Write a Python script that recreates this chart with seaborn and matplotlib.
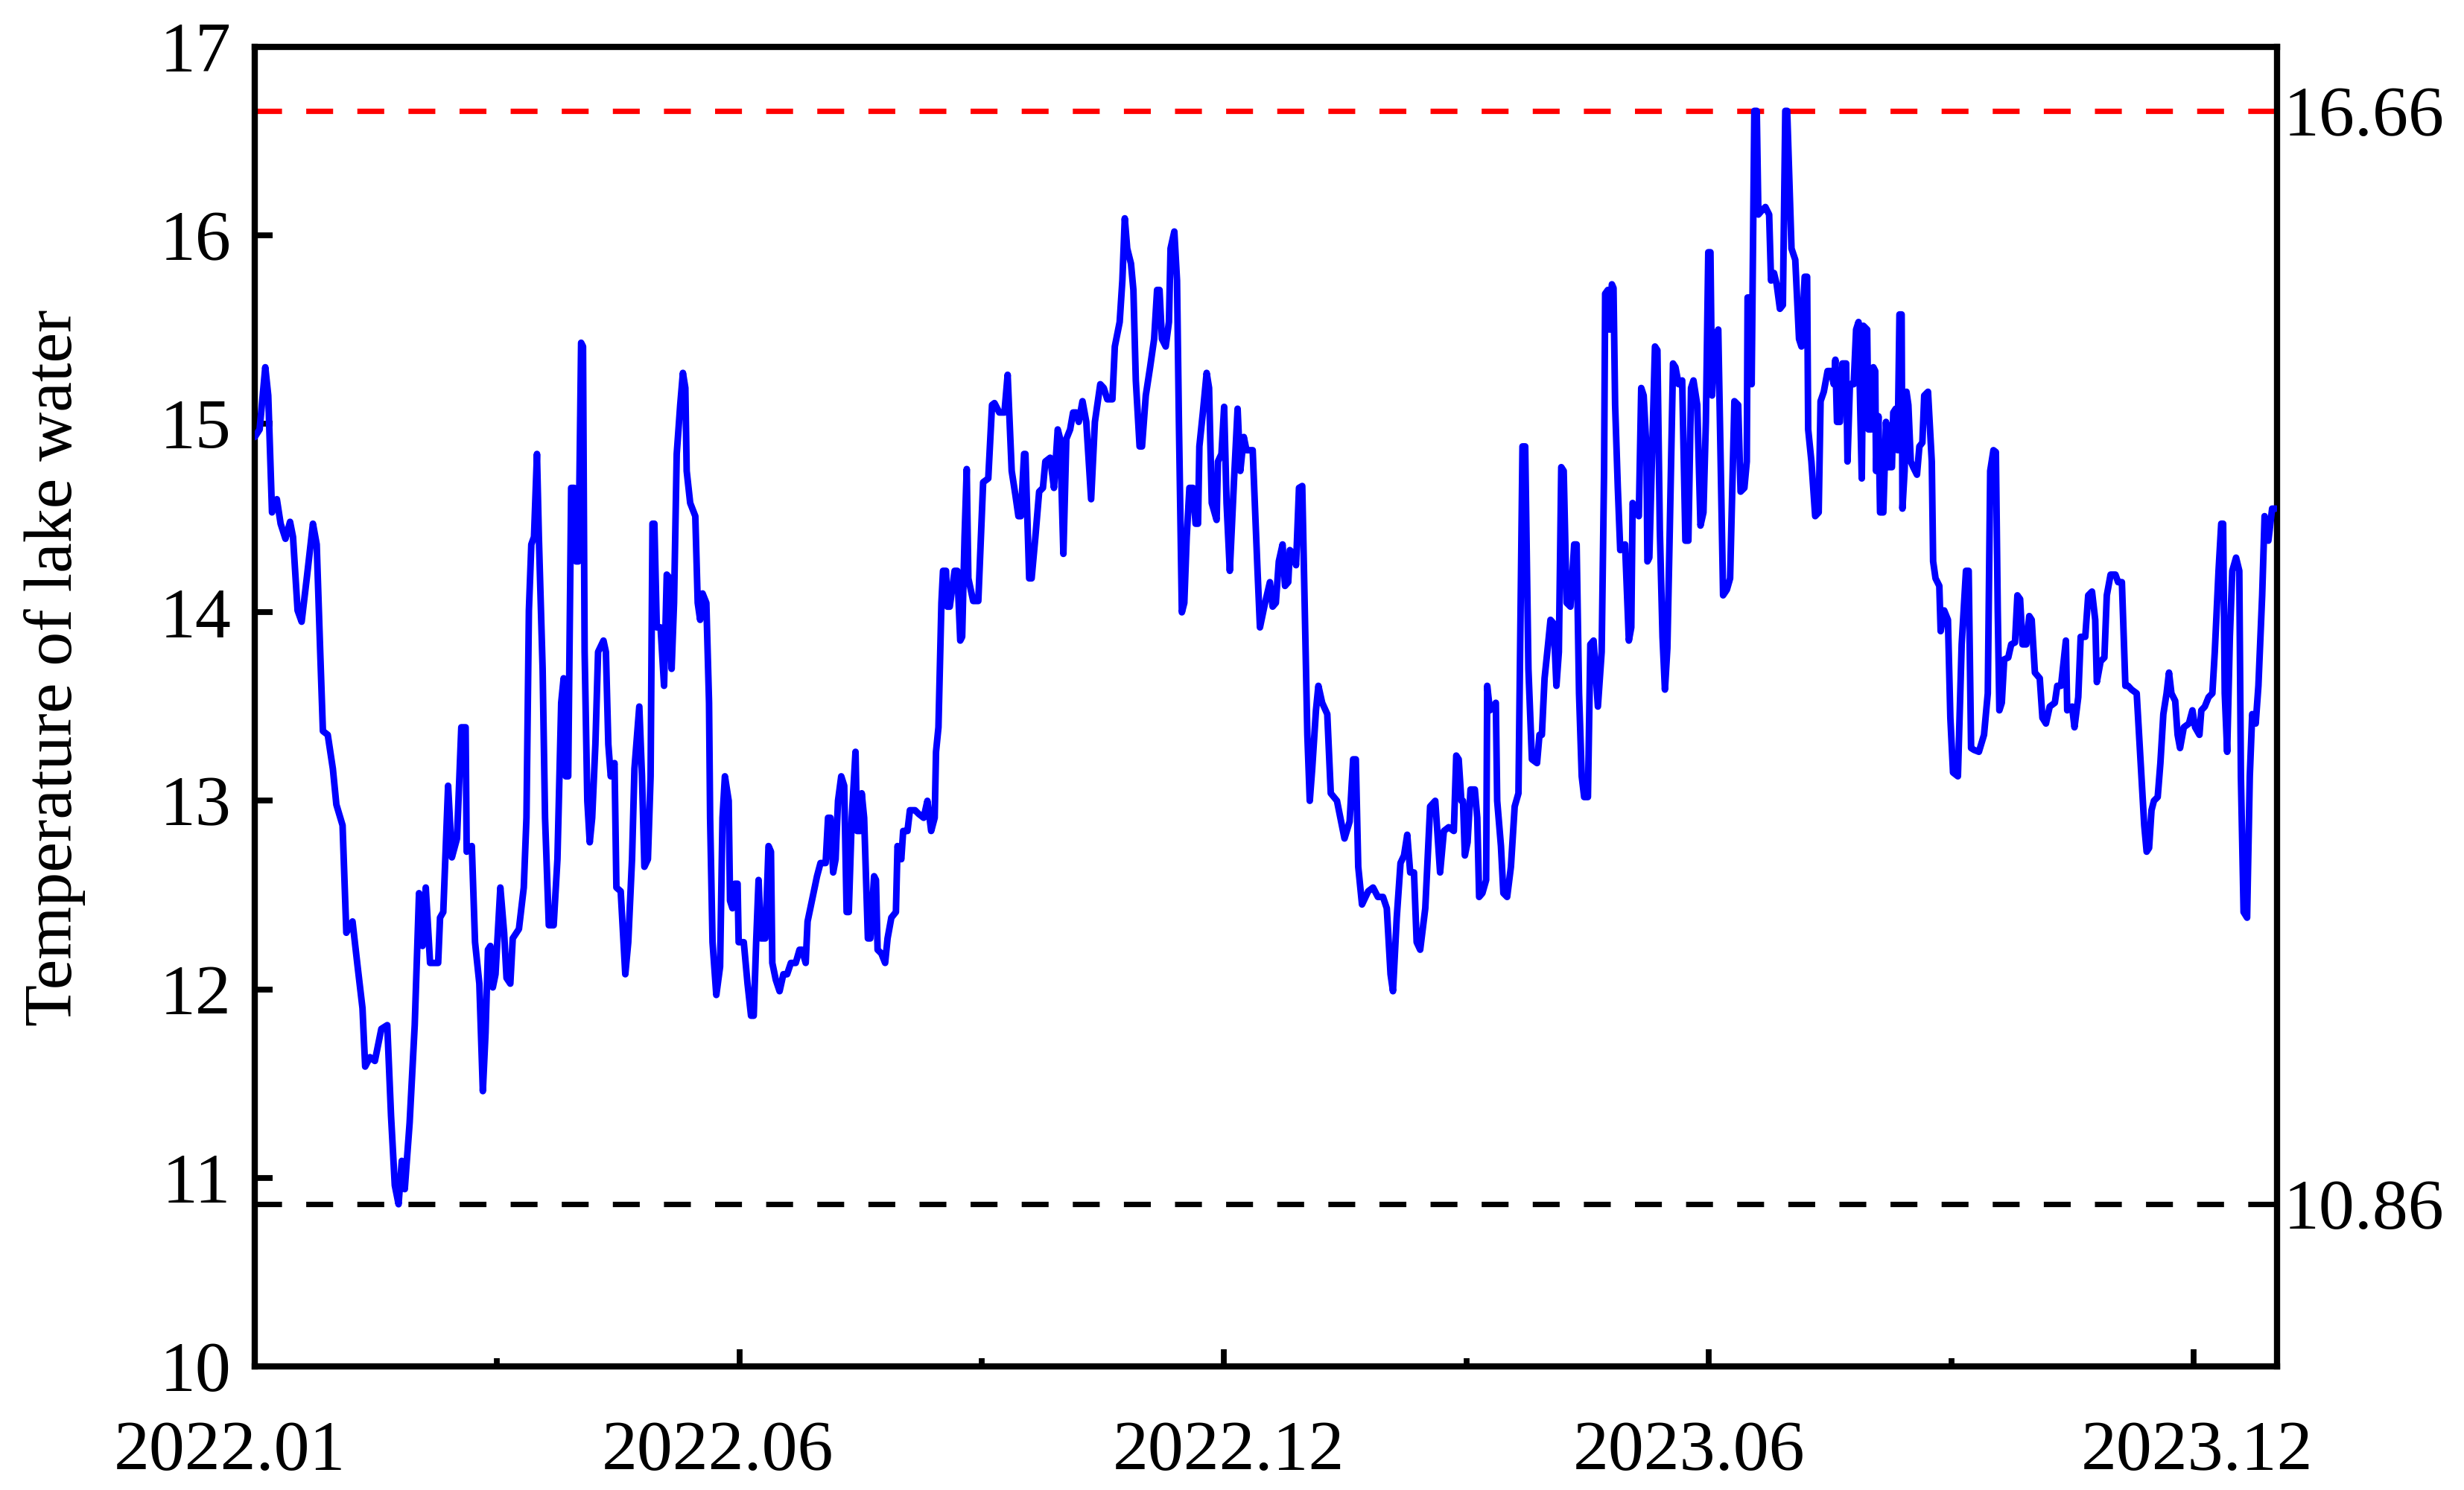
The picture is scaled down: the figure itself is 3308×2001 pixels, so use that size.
import matplotlib
matplotlib.use("Agg")
import matplotlib.pyplot as plt
import matplotlib.transforms as mtransforms
import seaborn as sns
import pandas as pd

# daily lake water temperature, day 0 = 2022-01-01
day = [
    0.0, 1.8, 3.9, 5.0, 6.4, 8.2, 9.6, 11.4, 13.1, 14.2, 15.9, 17.4, 19.3, 21.6, 23.0, 24.3, 25.3, 27.1,
    29.0, 30.3, 32.6, 34.0, 36.3, 38.2, 40.0, 41.0, 42.8, 44.6, 47.0, 49.2, 50.6, 52.0, 53.4, 54.6, 55.7,
    57.5, 59.4, 61.0, 62.3, 63.5, 65.1, 68.1, 68.8, 70.0, 71.8, 73.2, 75.1, 76.7, 78.3, 78.7, 80.6, 81.8,
    83.4, 84.7, 85.7, 86.6, 87.5, 88.4, 89.4, 91.2, 92.6, 93.5, 94.9, 95.8, 98.1, 99.9, 100.9, 101.8,
    102.7, 103.7, 104.8, 105.5, 106.9, 107.8, 109.2, 111.0, 112.4, 113.8, 114.7, 115.5, 116.4, 117.5,
    118.6, 119.3, 120.2, 121.2, 121.9, 122.5, 123.5, 124.4, 125.3, 126.5, 127.5,
    129.5, 130.4, 131.3, 132.2, 133.6, 134.3, 135.9, 137.6, 138.7, 140.1, 141.0, 142.8, 143.8, 144.7,
    146.0, 147.0, 147.7, 148.4, 149.3, 150.7, 152.0, 153.0, 153.6, 154.8, 155.7, 156.7, 158.0, 159.0,
    159.9, 160.4, 161.7, 163.6, 164.5, 165.4, 166.3, 167.7, 168.7, 169.1, 170.0, 171.4, 172.8, 173.7,
    174.6, 176.0, 176.5, 177.4, 178.3, 179.3, 179.7, 181.6, 183.0, 184.3, 185.3, 186.2, 187.1, 188.0,
    189.6, 190.8, 191.7, 192.2, 193.5, 194.9, 196.3, 197.7, 199.1, 200.9, 202.3, 203.2, 204.6, 205.3,
    206.9, 208.8, 210.1, 212.0, 212.9, 213.8, 214.8, 215.7, 216.6, 217.8, 218.9, 219.8, 220.6, 221.7,
    223.1, 223.7, 224.9, 225.4, 226.3, 227.7, 228.6, 230.0, 230.7, 231.3, 232.7, 234.1, 235.0, 236.4,
    238.1, 238.7, 240.1, 240.8, 242.4, 243.3, 245.2, 246.6,
    248.4, 249.8, 251.2, 252.5, 253.0, 253.9, 255.0, 255.6, 256.7, 257.2, 258.1, 259.9, 260.9, 262.0,
    262.7, 263.6, 264.4, 265.0, 266.8, 268.7, 270.5, 272.4, 273.8, 274.7, 276.5, 278.4, 279.6, 281.1,
    282.5, 283.6, 284.5, 285.7, 286.2, 287.6, 288.5, 289.9, 291.3, 292.7, 293.6, 295.4, 296.8, 298.2,
    299.1, 300.3, 301.4, 302.8, 303.9, 305.1, 306.0, 307.4, 308.8, 310.6, 312.0, 314.0, 315.3, 316.6,
    318.5, 319.4, 321.2, 322.2, 323.1, 324.0, 325.4, 326.3, 327.2, 328.6, 329.5, 330.9, 332.5, 334.0,
    335.1, 336.0, 336.9, 338.3, 339.5, 340.1, 341.5, 342.5, 343.2, 344.3, 345.2, 346.1, 347.1, 348.4,
    349.4, 350.3, 350.8, 352.1, 353.5, 354.4, 355.4, 357.2, 357.7, 359.0, 360.0, 360.9, 362.1, 363.7,
    365.0, 366.0, 367.3, 368.3, 370.6, 372.4, 373.3,
    375.2, 377.0, 378.0, 379.2, 380.3, 381.7, 382.6, 383.8, 384.4, 385.8, 386.7, 387.8, 389.0, 389.9,
    390.9, 391.8, 392.7, 394.1, 395.0, 396.4, 398.3, 399.6, 401.9, 404.7, 406.6, 407.9, 408.9, 409.8,
    411.2, 413.5, 415.3, 417.1, 419.0, 420.4, 421.8, 422.7, 424.1, 425.5, 426.8, 428.0, 429.1, 430.5,
    431.5, 432.8, 434.7, 436.5, 438.4, 440.2, 441.6, 443.4, 445.3, 446.2, 447.1, 448.1, 448.7, 449.4,
    450.4, 451.5, 453.1, 454.0, 454.7, 455.9, 457.3, 457.7, 458.7, 460.0, 460.9, 461.4, 462.8, 463.7,
    465.1, 466.5, 467.9, 469.3, 470.2, 470.8, 471.8, 473.0, 474.3, 476.2, 477.1, 478.0, 479.0, 480.3,
    481.2, 482.4, 483.4, 484.3, 485.2, 486.1, 487.2, 488.6, 490.0, 490.9, 491.8, 492.8, 493.7, 495.1,
    496.0, 497.2,
    498.8, 500.2, 501.1, 501.5, 502.5, 503.1, 504.0, 504.6, 505.2, 506.2, 507.1, 508.9, 510.3, 511.2,
    511.7, 512.6, 514.0, 514.9, 515.8, 516.8, 517.2, 517.9, 519.1, 520.0, 520.9, 521.8, 522.8, 523.7,
    524.6, 525.5, 526.7, 527.6, 528.8, 530.1, 531.3, 532.4, 533.4, 534.3, 535.7, 536.9, 538.0, 538.9,
    539.8, 540.6, 541.2, 542.1, 543.5, 544.4, 545.3, 546.7, 547.9, 549.5, 550.9, 551.8, 553.2, 554.1,
    554.4, 555.5, 555.9, 556.9, 557.8, 558.4, 559.6, 561.0, 562.4, 563.1, 564.2, 565.2, 566.4, 567.5,
    568.4, 569.1, 570.1, 570.7, 572.1, 573.5, 574.4, 575.6, 576.5, 576.9, 578.1, 579.5, 580.8, 581.5,
    582.7, 584.1, 585.4, 586.4, 587.0, 587.6, 588.7, 589.6, 591.0, 591.5, 592.4, 593.8, 594.7, 595.6,
    596.2, 596.8, 597.4, 598.8, 599.3, 600.2, 601.1, 601.8, 602.1, 603.0, 603.6, 604.8, 605.8, 606.7,
    608.0, 608.5, 609.4, 610.1, 610.8, 611.6, 611.9, 612.7, 613.4, 614.1, 615.0, 615.9, 617.3, 618.2,
    619.3, 620.0, 621.4,
    622.8, 623.3, 624.2, 625.6, 626.1, 627.4, 628.8, 629.7, 630.7, 632.5, 633.9, 635.5, 636.5, 637.4,
    638.5, 640.3, 642.2, 643.6, 644.5, 645.7, 646.6, 647.3, 647.9, 648.8, 649.7, 651.2, 652.3, 653.7,
    654.6, 655.6, 656.5, 657.9, 659.0, 659.9, 661.1, 662.9, 663.9, 665.2, 666.6, 668.5, 669.4, 670.8,
    672.6, 673.1, 674.9, 675.8, 677.2, 678.1, 679.8, 680.9, 682.3, 683.5, 684.1, 685.5, 686.9, 687.8,
    689.2, 691.0, 692.0, 693.4, 694.7, 695.7, 697.0, 698.9, 700.3, 701.7, 702.6, 703.5, 704.4, 705.3,
    706.7, 707.7, 708.8, 710.0, 710.9, 711.8, 713.2, 714.1, 715.0, 716.4, 718.3, 719.6, 720.6, 722.2,
    722.9, 724.2, 725.6, 727.0, 727.9, 729.3, 730.3, 731.0, 731.6, 732.5, 733.5, 734.4, 735.8, 737.0,
    737.6, 738.6, 739.9, 740.9, 741.8, 743.1, 744.1, 745.5, 746.4, 747.8, 749.2, 750.6,
]
temp = [
    14.93, 14.97, 15.30, 15.15, 14.53, 14.60, 14.47, 14.39, 14.48, 14.40, 14.01, 13.95, 14.18, 14.47, 14.36, 13.79, 13.37, 13.35,
    13.17, 12.98, 12.87, 12.30, 12.36, 12.12, 11.90, 11.59, 11.64, 11.62, 11.79, 11.81, 11.33, 10.96, 10.86, 11.09, 10.94,
    11.29, 11.81, 12.51, 12.23, 12.54, 12.14, 12.14, 12.38, 12.41, 13.08, 12.70, 12.80, 13.39, 13.39, 12.73, 12.76, 12.25,
    12.03, 11.46, 11.77, 12.21, 12.23, 12.01, 12.08, 12.54, 12.30, 12.06, 12.03, 12.27, 12.32, 12.54, 12.91, 14.01,
    14.36, 14.40, 14.84, 14.40, 13.70, 12.91, 12.34, 12.34, 12.69, 13.52, 13.65, 13.13, 13.13, 14.66,
    14.66, 14.27, 14.27, 15.43, 15.41, 13.79, 13.00, 12.78, 12.91, 13.30, 13.79,
    13.85, 13.79, 13.30, 13.13, 13.20, 12.54, 12.52, 12.08, 12.25, 12.69, 13.17, 13.50, 13.13, 12.65,
    12.69, 13.13, 14.47, 14.47, 13.92, 13.92, 13.61, 14.20, 14.19, 13.70, 14.05, 14.84, 15.10, 15.27,
    15.19, 14.75, 14.58, 14.51, 14.05, 13.96, 14.10, 14.05, 13.52, 12.91, 12.25, 11.97, 12.12, 12.91,
    13.13, 13.00, 12.47, 12.43, 12.56, 12.56, 12.25, 12.25, 12.03, 11.86, 11.86, 12.25, 12.58, 12.27,
    12.27, 12.76, 12.73, 12.14, 12.05, 11.99, 12.08, 12.08, 12.14, 12.14, 12.21, 12.21, 12.14, 12.36,
    12.47, 12.60, 12.67, 12.67, 12.91, 12.91, 12.62, 12.69, 13.00, 13.13, 13.08, 12.41, 12.41, 12.91,
    13.26, 12.84, 12.84, 13.04, 12.91, 12.27, 12.27, 12.60, 12.58, 12.21, 12.19, 12.14, 12.27, 12.38,
    12.41, 12.76, 12.69, 12.84, 12.84, 12.95, 12.95, 12.93,
    12.91, 13.00, 12.84, 12.91, 13.26, 13.39, 14.05, 14.22, 14.22, 14.03, 14.03, 14.22, 14.22, 13.85,
    13.87, 14.40, 14.76, 14.18, 14.06, 14.06, 14.69, 14.71, 15.10, 15.11, 15.06, 15.06, 15.26, 14.75,
    14.62, 14.51, 14.51, 14.84, 14.84, 14.18, 14.18, 14.40, 14.64, 14.66, 14.80, 14.82, 14.66, 14.97,
    14.92, 14.31, 14.92, 14.97, 15.06, 15.06, 15.01, 15.12, 15.01, 14.60, 15.01, 15.21, 15.19, 15.13,
    15.13, 15.41, 15.54, 15.76, 16.09, 15.93, 15.85, 15.71, 15.23, 14.88, 14.88, 15.15, 15.30, 15.45,
    15.71, 15.71, 15.45, 15.41, 15.54, 15.93, 16.02, 15.76, 15.01, 14.00, 14.05, 14.40, 14.66, 14.66,
    14.47, 14.47, 14.88, 15.06, 15.27, 15.19, 14.58, 14.49, 14.80, 14.84, 15.09, 14.58, 14.22, 14.71,
    15.08, 14.75, 14.93, 14.86, 14.86, 14.22, 13.92,
    14.05, 14.16, 14.03, 14.05, 14.27, 14.36, 14.14, 14.16, 14.33, 14.31, 14.25, 14.66, 14.67, 14.05,
    13.35, 13.00, 13.17, 13.48, 13.61, 13.52, 13.46, 13.04, 13.00, 12.80, 12.89, 13.22, 13.22, 12.65,
    12.45, 12.52, 12.54, 12.49, 12.49, 12.43, 12.08, 11.99, 12.38, 12.67, 12.71, 12.82, 12.62, 12.62,
    12.25, 12.21, 12.43, 12.97, 13.00, 12.62, 12.84, 12.86, 12.84, 13.24, 13.22, 13.00, 13.00, 12.71,
    12.78, 13.06, 13.06, 12.91, 12.49, 12.51, 12.58, 13.61, 13.48, 13.50, 13.52, 13.00, 12.76, 12.51,
    12.49, 12.65, 12.97, 13.04, 14.14, 14.88, 14.88, 13.70, 13.22, 13.20, 13.35, 13.35, 13.65, 13.83,
    13.96, 13.94, 13.61, 13.79, 14.77, 14.75, 14.05, 14.03, 14.36, 14.36, 13.57, 13.13, 13.02, 13.02,
    13.83, 13.85,
    13.50, 13.79, 14.75, 15.69, 15.71, 15.50, 15.74, 15.72, 15.10, 14.66, 14.33, 14.36, 13.85, 13.92,
    14.58, 14.55, 14.51, 15.19, 15.15, 14.88, 14.27, 14.29, 14.93, 15.41, 15.39, 14.44, 13.87, 13.59,
    13.81, 14.44, 15.32, 15.30, 15.21, 15.23, 14.38, 14.38, 15.19, 15.23, 15.10, 14.46, 14.53, 15.01,
    15.91, 15.91, 15.15, 15.45, 15.50, 14.80, 14.09, 14.12, 14.18, 15.12, 15.10, 14.64, 14.66, 14.80,
    15.67, 15.67, 15.21, 16.66, 16.66, 16.11, 16.13, 16.15, 16.11, 15.76, 15.80, 15.74, 15.61, 15.63,
    16.66, 16.66, 16.20, 15.93, 15.87, 15.45, 15.41, 15.78, 15.78, 14.97, 14.80, 14.51, 14.53, 15.12,
    15.17, 15.28, 15.28, 15.21, 15.34, 15.01, 15.01, 15.32, 15.32, 14.80, 15.21, 15.21, 15.50, 15.54,
    15.10, 14.71, 15.52, 15.50, 14.97, 14.97, 15.30, 15.28, 14.75, 15.04, 14.53, 14.53, 15.01, 14.77,
    14.77, 15.06, 15.08, 14.86, 15.58, 15.58, 14.55, 14.75, 15.17, 15.10, 14.80, 14.77, 14.73, 14.88,
    14.90, 15.15, 15.17,
    14.80, 14.27, 14.18, 14.14, 13.90, 14.01, 13.96, 13.44, 13.15, 13.13, 13.83, 14.22, 14.22, 13.28,
    13.27, 13.26, 13.35, 13.57, 14.75, 14.86, 14.85, 14.01, 13.48, 13.52, 13.75, 13.76, 13.83, 13.84,
    14.09, 14.07, 13.83, 13.83, 13.98, 13.96, 13.68, 13.65, 13.44, 13.41, 13.50, 13.52, 13.61, 13.61,
    13.85, 13.48, 13.50, 13.39, 13.55, 13.87, 13.87, 14.09, 14.11, 13.96, 13.63, 13.74, 13.76, 14.09,
    14.20, 14.20, 14.16, 14.16, 13.61, 13.61, 13.59, 13.57, 13.22, 12.87, 12.73, 12.75, 12.95, 13.00,
    13.02, 13.20, 13.46, 13.57, 13.68, 13.57, 13.53, 13.35, 13.28, 13.39, 13.41, 13.48, 13.39, 13.35,
    13.48, 13.50, 13.55, 13.57, 13.79, 14.22, 14.47, 14.47, 13.57, 13.26, 13.87, 14.22, 14.29, 14.22,
    13.13, 12.41, 12.38, 13.13, 13.46, 13.41, 13.61, 14.09, 14.51, 14.38, 14.55, 14.55,
]

tick_days = [0, 180, 360, 540, 720]
tick_labels = ["2022.01", "2022.06", "2022.12", "2023.06", "2023.12"]
minor_days = [90, 270, 450, 630]
t_max = 16.66
t_min = 10.86

# the date labels in the original sit slightly off their ticks (points)
label_dx = [-12, -10.5, 2, -9.5, 1.5]

sns.set_style("ticks")
plt.rcParams["font.family"] = ["Liberation Serif", "DejaVu Serif"]
plt.rcParams["text.color"] = "black"
plt.rcParams["xtick.color"] = "black"
plt.rcParams["ytick.color"] = "black"
plt.rcParams["xtick.labelcolor"] = "black"
plt.rcParams["ytick.labelcolor"] = "black"

df = pd.DataFrame({"day": day, "temp": temp})

fig = plt.figure(figsize=(16.54, 10.005), dpi=200)
ax = fig.add_axes([0.1034, 0.0830, 0.8207, 0.8856])

# max / min reference lines
ax.axhline(t_max, color="#ff0000", linewidth=2.6, ls=(0, (5, 4.5)), zorder=1)
ax.axhline(t_min, color="black", linewidth=2.6, ls=(0, (5, 4.5)), zorder=1)

sns.lineplot(data=df, x="day", y="temp", ax=ax, color="#0000ff", linewidth=3.2,
             estimator=None, sort=False, zorder=3)

ax.set_xlim(0, 751)
ax.set_ylim(10, 17)
ax.set_xticks(tick_days, labels=tick_labels)
ax.set_xticks(minor_days, minor=True)
ax.set_yticks(range(10, 18))
ax.set_xlabel("")
ax.set_ylabel("")

for s in ax.spines.values():
    s.set_visible(True)
    s.set_linewidth(3.0)
    s.set_color("black")

ax.tick_params(axis="both", which="both", direction="in", width=2.8, color="black",
               labelcolor="black", top=False, right=False)
ax.tick_params(axis="x", which="major", length=8.3, pad=26, labelsize=34.5)
ax.tick_params(axis="x", which="minor", length=4)
ax.tick_params(axis="y", which="major", length=8.5, pad=11.5, labelsize=34.5)

for lab, dx in zip(ax.get_xticklabels(), label_dx):
    shift = mtransforms.ScaledTranslation(dx / 72, 0, fig.dpi_scale_trans)
    lab.set_transform(lab.get_transform() + shift)

# values of the reference lines on the right side
ax2 = ax.twinx()
ax2.set_ylim(10, 17)
ax2.set_yticks([t_min, t_max], labels=[f"{t_min:.2f}", f"{t_max:.2f}"])
ax2.tick_params(axis="y", length=0, pad=3, labelsize=34.5, labelcolor="black")
for s in ax2.spines.values():
    s.set_visible(False)
ax2.grid(False)

fig.text(74 / 3308, 1 - 897 / 2001, "Temperature of lake water", rotation=90,
         ha="center", va="center", fontsize=33, color="black")

fig.savefig("out.png", dpi=200)
